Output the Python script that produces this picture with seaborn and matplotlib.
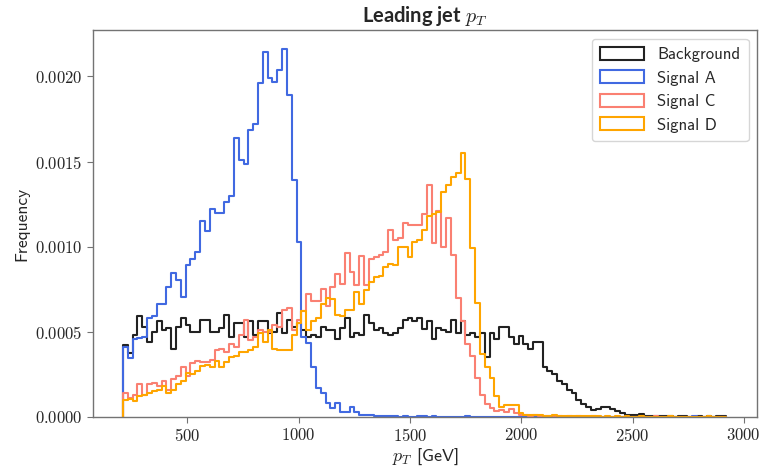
import numpy as np
import pandas as pd
import matplotlib
matplotlib.use("Agg")
import matplotlib.pyplot as plt
import seaborn as sns
from matplotlib.patches import Patch
from matplotlib.ticker import FuncFormatter

# binning of the leading jet pT (GeV)
pt_min = 210.0
pt_max = 2920.0
n_bins = 125

# normalised frequencies per bin, in units of 1e-4
background = [
    4.2, 3.75, 4.8, 5.9, 5.3, 4.4, 5.0, 5.6, 5.1, 5.2,
    4.0, 5.3, 5.8, 5.4, 5.0, 5.0, 5.7, 5.7, 5.0, 5.0,
    5.2, 6.0, 4.7, 5.5, 5.5, 4.7, 5.6, 4.8, 5.6, 5.6,
    4.9, 5.0, 6.1, 4.9, 5.7, 5.3, 5.5, 5.1, 4.7, 4.8,
    4.7, 5.3, 5.1, 5.1, 4.6, 5.2, 5.8, 4.7, 4.9, 4.8,
    6.0, 5.5, 5.1, 5.2, 4.9, 4.8, 4.9, 5.2, 5.7, 5.8,
    5.6, 5.8, 5.15, 5.6, 4.6, 5.2, 5.1, 5.0, 5.7, 4.9,
    5.6, 4.8, 4.9, 4.7, 4.9, 3.5, 4.9, 4.6, 5.3, 5.3,
    4.7, 4.3, 4.75, 4.3, 4.0, 4.4, 4.4, 2.9, 2.7, 2.5,
    2.1, 1.9, 1.6, 1.4, 1.0, 0.75, 0.55, 0.42, 0.45, 0.55,
    0.58, 0.45, 0.33, 0.2, 0.1, 0.12, 0.08, 0.14, 0.05, 0.03,
    0.06, 0.03, 0.02, 0.03, 0.0, 0.02, 0.02, 0.0, 0.0, 0.02,
    0.0, 0.02, 0.0, 0.02, 0.02,
]
signal_a = [
    4.1, 3.45, 4.6, 4.65, 4.7, 5.8, 5.9, 6.6, 6.6, 7.65,
    8.45, 8.05, 7.05, 8.9, 9.3, 9.7, 11.5, 10.9, 12.2, 12.0,
    11.95, 12.6, 13.0, 16.4, 15.1, 14.85, 16.85, 17.2, 19.6, 21.45,
    19.9, 19.7, 20.4, 21.6, 18.9, 13.9, 10.3, 4.7, 4.35, 2.9,
    1.7, 1.4, 0.82, 0.53, 0.82, 0.31, 0.31, 0.55, 0.31, 0.12,
    0.1, 0.08, 0.05, 0.05, 0.03, 0.03, 0.02, 0.0, 0.02, 0.0,
    0.0, 0.03, 0.02, 0.0, 0.02, 0.0, 0.0, 0.0, 0.0, 0.0,
    0.0, 0.02, 0.0, 0.0, 0.0, 0.0, 0.0, 0.0, 0.0, 0.0,
    0.0, 0.0, 0.0, 0.0, 0.0, 0.0, 0.0, 0.0, 0.0, 0.0,
    0.0, 0.0, 0.0, 0.0, 0.0, 0.0, 0.0, 0.0, 0.0, 0.0,
    0.0, 0.0, 0.0, 0.0, 0.0, 0.0, 0.0, 0.0, 0.0, 0.0,
    0.0, 0.0, 0.0, 0.0, 0.0, 0.0, 0.0, 0.0, 0.02, 0.0,
    0.0, 0.0, 0.0, 0.0, 0.0,
]
signal_c = [
    1.4, 1.1, 1.3, 1.9, 1.3, 1.9, 2.0, 1.8, 2.1, 1.6,
    2.2, 2.4, 2.9, 2.4, 3.15, 3.25, 3.2, 3.2, 3.35, 3.9,
    4.0, 3.8, 4.3, 4.1, 4.8, 5.7, 4.5, 4.7, 5.1, 5.0,
    5.0, 5.4, 5.3, 6.3, 6.4, 5.1, 5.7, 6.2, 7.2, 6.8,
    6.8, 7.5, 6.5, 7.6, 8.4, 7.8, 9.6, 8.5, 7.75, 9.45,
    7.75, 9.3, 9.4, 9.5, 9.7, 11.0, 10.4, 10.5, 11.4, 11.3,
    11.3, 11.3, 11.9, 13.6, 10.2, 12.1, 10.0, 11.7, 9.5, 7.0,
    5.6, 4.3, 3.6, 2.3, 1.3, 0.75, 0.5, 0.35, 0.4, 0.3,
    0.45, 0.2, 0.12, 0.1, 0.05, 0.08, 0.04, 0.03, 0.02, 0.03,
    0.02, 0.0, 0.02, 0.0, 0.02, 0.0, 0.0, 0.02, 0.0, 0.0,
    0.0, 0.0, 0.0, 0.0, 0.0, 0.0, 0.0, 0.0, 0.0, 0.0,
    0.02, 0.0, 0.0, 0.0, 0.0, 0.0, 0.0, 0.0, 0.0, 0.0,
    0.0, 0.0, 0.0, 0.0, 0.0,
]
signal_d = [
    1.0, 1.05, 0.9, 1.2, 1.3, 1.4, 1.5, 1.6, 1.8, 1.4,
    1.6, 1.9, 2.1, 2.6, 2.5, 2.7, 3.0, 3.05, 2.9, 3.3,
    2.9, 3.2, 3.5, 3.6, 3.8, 3.8, 3.9, 4.1, 4.9, 4.4,
    5.1, 4.0, 3.9, 3.9, 3.9, 4.8, 5.5, 6.2, 5.1, 5.6,
    5.8, 6.6, 7.0, 6.9, 6.0, 5.9, 6.3, 6.3, 7.35, 6.6,
    7.45, 7.95, 8.2, 8.3, 8.8, 9.0, 8.9, 10.0, 10.0, 9.4,
    10.3, 10.4, 11.0, 11.8, 11.9, 12.05, 13.2, 13.6, 14.1, 14.3,
    15.5, 14.0, 9.9, 6.7, 3.7, 2.9, 2.3, 1.2, 0.6, 0.7,
    0.7, 0.7, 0.25, 0.12, 0.1, 0.08, 0.1, 0.06, 0.05, 0.1,
    0.05, 0.03, 0.05, 0.03, 0.02, 0.05, 0.02, 0.03, 0.02, 0.0,
    0.02, 0.0, 0.02, 0.0, 0.02, 0.0, 0.0, 0.02, 0.0, 0.0,
    0.0, 0.0, 0.0, 0.02, 0.0, 0.0, 0.0, 0.0, 0.0, 0.0,
    0.0, 0.02, 0.0, 0.0, 0.0,
]

labels = ["Background", "Signal A", "Signal C", "Signal D"]
colors = ["#222222", "royalblue", "salmon", "orange"]
series = [background, signal_a, signal_c, signal_d]

edges = np.linspace(pt_min, pt_max, n_bins + 1)
# very narrow empty bins on both sides so the outline drops to the baseline
edges_pad = np.concatenate([[pt_min - 0.5], edges, [pt_max + 0.5]])
centers = 0.5 * (edges_pad[:-1] + edges_pad[1:])

frames = []
for name, vals in zip(labels, series):
    freq = np.concatenate([[0.0], np.array(vals) * 1e-4, [0.0]])
    frames.append(pd.DataFrame({"pt": centers, "freq": freq, "sample": name}))
df = pd.concat(frames, ignore_index=True)

sns.set_style("white")
plt.rcParams["font.family"] = ["cmss10", "DejaVu Sans"]
plt.rcParams["mathtext.fontset"] = "cm"
plt.rcParams["axes.unicode_minus"] = False

fig, ax = plt.subplots(figsize=(7.63, 4.72), dpi=100)
fig.subplots_adjust(left=0.122, right=0.992, bottom=0.117, top=0.936)

for name, color in zip(labels, colors):
    sns.histplot(data=df[df["sample"] == name], x="pt", weights="freq",
                 bins=edges_pad.tolist(), element="step", fill=False, stat="count",
                 color=color, linewidth=1.5, ax=ax)

ax.set_xlim(76, 3059)
ax.set_ylim(0, 0.002272)
ax.set_xticks([500, 1000, 1500, 2000, 2500, 3000])
ax.set_yticks([0, 0.0005, 0.001, 0.0015, 0.002])
ax.xaxis.set_major_formatter(FuncFormatter(lambda v, p: f"${v:.0f}$"))
ax.yaxis.set_major_formatter(FuncFormatter(lambda v, p: f"${v:.4f}$"))
ax.tick_params(axis="both", labelsize=12, bottom=True, left=True,
               length=4, width=0.8, color="0.45")
for sp in ax.spines.values():
    sp.set_color("0.45")
    sp.set_linewidth(1.0)

ax.set_xlabel("$p_T$ [GeV]", fontsize=13, labelpad=2)
ax.set_ylabel("Frequency", fontsize=12.5)
ax.set_title("Leading jet $p_T$", fontsize=14.5, fontweight="bold",
             family=["Lato", "DejaVu Sans"], pad=6)

handles = [Patch(facecolor="none", edgecolor=c, linewidth=1.5) for c in colors]
ax.legend(handles, labels, loc="upper right", fontsize=12, frameon=True,
          edgecolor="0.8", fancybox=True, handlelength=2.6, handleheight=0.8,
          borderpad=0.5, labelspacing=0.5)

plt.savefig("out.png", dpi=100)
